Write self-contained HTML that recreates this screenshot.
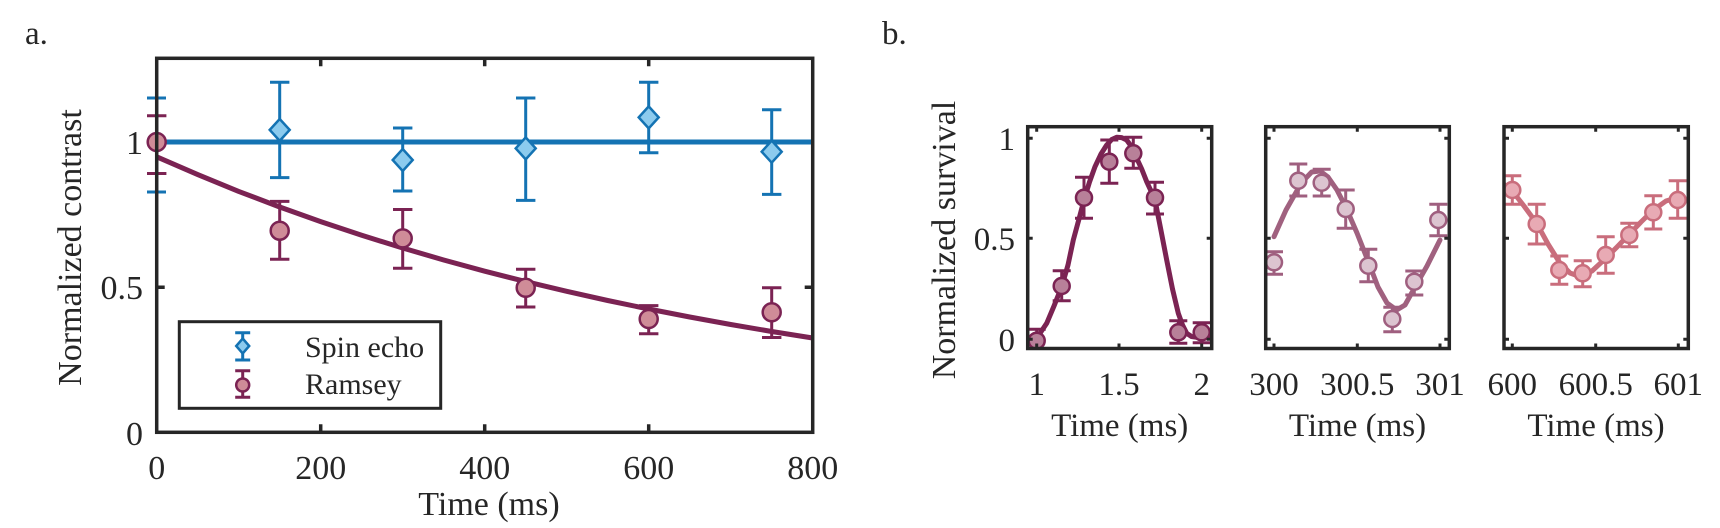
<!DOCTYPE html>
<html>
<head>
<meta charset="utf-8">
<style>
html,body{margin:0;padding:0;background:#fff;}
svg{display:block;}
text{font-family:"Liberation Serif","Times New Roman",serif;fill:#262626;}
</style>
</head>
<body>
<svg width="1720" height="528" viewBox="0 0 1720 528" xmlns="http://www.w3.org/2000/svg">
<rect width="1720" height="528" fill="#fff"/>

<!-- ============ PANEL A ============ -->
<text x="25" y="44" font-size="33">a.</text>

<!-- fits -->
<line x1="156.7" y1="142" x2="812.7" y2="142" stroke="#1473b3" stroke-width="5"/>
<polyline fill="none" stroke="#7b2353" stroke-width="5" stroke-linejoin="round"
 points="156.7,156.8 197.7,174.6 238.7,191.4 279.7,207.0 320.7,221.6 361.7,235.3 402.7,248.0 443.7,260.0 484.7,271.2 525.7,281.6 566.7,291.3 607.7,300.5 648.7,309.0 689.7,317.0 730.7,324.5 771.7,331.5 812.7,338.0"/>

<!-- spin echo error bars -->
<g stroke="#1473b3" stroke-width="3" fill="none">
<path d="M156.7 98V192M147 98H166M147 192H166"/>
<path d="M279.7 82.2V177.6M270 82.2H289.4M270 177.6H289.4"/>
<path d="M402.7 128V191M393 128H412.4M393 191H412.4"/>
<path d="M525.7 98V200.4M516 98H535.4M516 200.4H535.4"/>
<path d="M648.7 82.2V152.7M639 82.2H658.4M639 152.7H658.4"/>
<path d="M771.7 109.7V194.4M762 109.7H781.4M762 194.4H781.4"/>
</g>
<!-- spin echo diamonds -->
<g fill="#8ccbee" stroke="#1473b3" stroke-width="2.5">
<polygon points="279.7,119 289.7,129.9 279.7,140.9 269.7,129.9"/>
<polygon points="402.7,149 412.7,160 402.7,171 392.7,160"/>
<polygon points="525.7,137.4 535.7,148.4 525.7,159.4 515.7,148.4"/>
<polygon points="648.7,106.4 658.7,117.4 648.7,128.4 638.7,117.4"/>
<polygon points="771.7,140.7 781.7,151.7 771.7,162.7 761.7,151.7"/>
</g>

<!-- ramsey error bars -->
<g stroke="#7b2353" stroke-width="3" fill="none">
<path d="M156.7 115.8V173.5M147 115.8H166.4M147 173.5H166.4"/>
<path d="M279.7 201.4V259.2M270 201.4H289.4M270 259.2H289.4"/>
<path d="M402.7 209.5V268.3M393 209.5H412.4M393 268.3H412.4"/>
<path d="M525.7 269.3V307M516 269.3H535.4M516 307H535.4"/>
<path d="M648.7 305.6V333.8M639 305.6H658.4M639 333.8H658.4"/>
<path d="M771.7 287.8V337.5M762 287.8H781.4M762 337.5H781.4"/>
</g>
<g fill="#cf8c98" stroke="#7b2353" stroke-width="2.5">
<circle cx="156.7" cy="142" r="9"/>
<circle cx="279.7" cy="230.7" r="9"/>
<circle cx="402.7" cy="238.4" r="9"/>
<circle cx="525.7" cy="287.8" r="9"/>
<circle cx="648.7" cy="319" r="9"/>
<circle cx="771.7" cy="312.3" r="9"/>
</g>

<!-- axes box a -->
<rect x="156.7" y="58.3" width="656" height="374" fill="none" stroke="#262626" stroke-width="3.5"/>
<g stroke="#262626" stroke-width="3.5">
<path d="M320.7 432.3v-8M484.7 432.3v-8M648.7 432.3v-8"/>
<path d="M320.7 58.3v8M484.7 58.3v8M648.7 58.3v8"/>
<path d="M156.7 287.3h8M812.7 287.3h-8"/>
</g>

<!-- tick labels a -->
<g font-size="34" text-anchor="middle">
<text x="156.7" y="479">0</text>
<text x="320.7" y="479">200</text>
<text x="484.7" y="479">400</text>
<text x="648.7" y="479">600</text>
<text x="812.7" y="479">800</text>
</g>
<g font-size="34" text-anchor="end">
<text x="143" y="445">0</text>
<text x="143" y="299">0.5</text>
<text x="143" y="154">1</text>
</g>
<text x="489" y="515" font-size="34" text-anchor="middle">Time (ms)</text>
<text transform="translate(81,247.5) rotate(-90)" font-size="34" text-anchor="middle">Normalized contrast</text>

<!-- legend -->
<rect x="179.3" y="321.7" width="261.4" height="86.6" fill="#fff" stroke="#262626" stroke-width="3"/>
<path d="M242.7 332.7V360M235.2 332.7H250.2M235.2 360H250.2" stroke="#1473b3" stroke-width="3" fill="none"/>
<polygon points="242.7,338.5 249.2,346 242.7,353.5 236.2,346" fill="#8ccbee" stroke="#1473b3" stroke-width="2.5"/>
<path d="M242.7 370.7V397.3M235.2 370.7H250.2M235.2 397.3H250.2" stroke="#7b2353" stroke-width="3" fill="none"/>
<circle cx="242.7" cy="385" r="6.5" fill="#cf8c98" stroke="#7b2353" stroke-width="2.5"/>
<text x="305" y="357" font-size="30">Spin echo</text>
<text x="305" y="394" font-size="30">Ramsey</text>

<!-- ============ PANEL B ============ -->
<text x="882" y="44" font-size="33">b.</text>
<text transform="translate(955,240) rotate(-90)" font-size="34" text-anchor="middle">Normalized survival</text>

<!-- ---- subplot 1 ---- -->
<polyline fill="none" stroke="#7b2353" stroke-width="5" stroke-linejoin="round" stroke-linecap="round"
 points="1031,343 1036.7,338.3 1046.7,323.3 1054,306 1061.7,286.7 1068,265 1073.3,240 1079,219 1084,200 1089.5,182 1095,166.7 1101,154 1106.7,145 1111.7,139.5 1116.7,137.3 1121.7,137.6 1126.7,140 1131.7,147 1136.7,158.3 1141.7,169 1146.7,181.7 1151,191 1155,200 1160.5,228 1166.7,260 1172.5,289 1178.3,313.3 1182.5,325 1186.7,333.3 1191.5,336.5 1196.7,337.3 1210,337.3"/>
<g stroke="#7b2353" stroke-width="3" fill="none">
<path d="M1036.7 329.3V348M1027.7 329.3H1045.7"/>
<path d="M1061.7 270.7V300.7M1052.7 270.7H1070.7M1052.7 300.7H1070.7"/>
<path d="M1084 177.3V218.3M1075 177.3H1093M1075 218.3H1093"/>
<path d="M1109.3 140V183.3M1100.3 140H1118.3M1100.3 183.3H1118.3"/>
<path d="M1133.3 137.3V168.3M1124.3 137.3H1142.3M1124.3 168.3H1142.3"/>
<path d="M1155 182.3V214M1146 182.3H1164M1146 214H1164"/>
<path d="M1178.3 320.7V343.3M1169.3 320.7H1187.3M1169.3 343.3H1187.3"/>
<path d="M1201.7 322.7V342.7M1192.7 322.7H1210.7M1192.7 342.7H1210.7"/>
</g>
<g fill="#b88099" stroke="#7b2353" stroke-width="2.5">
<circle cx="1036.7" cy="340.7" r="8"/>
<circle cx="1061.7" cy="286" r="8"/>
<circle cx="1084" cy="197.7" r="8"/>
<circle cx="1109.3" cy="161.7" r="8"/>
<circle cx="1133.3" cy="153.3" r="8"/>
<circle cx="1155" cy="197.7" r="8"/>
<circle cx="1178.3" cy="332.3" r="8"/>
<circle cx="1201.7" cy="332.3" r="8"/>
</g>
<rect x="1027.7" y="126.7" width="184" height="221.8" fill="none" stroke="#262626" stroke-width="3.5"/>
<g stroke="#262626" stroke-width="3">
<path d="M1036.7 348.5v-5M1119 348.5v-5M1201.7 348.5v-5M1036.7 126.7v5M1119 126.7v5M1201.7 126.7v5"/>
<path d="M1027.7 138.3h5M1027.7 238.3h5M1027.7 339.3h5M1211.7 138.3h-5M1211.7 238.3h-5M1211.7 339.3h-5"/>
</g>
<g font-size="33" text-anchor="end">
<text x="1015" y="351">0</text>
<text x="1015" y="250">0.5</text>
<text x="1015" y="150">1</text>
</g>
<g font-size="33" text-anchor="middle">
<text x="1036.7" y="395">1</text>
<text x="1119" y="395">1.5</text>
<text x="1201.7" y="395">2</text>
<text x="1119.7" y="436">Time (ms)</text>
</g>

<!-- ---- subplot 2 ---- -->
<polyline fill="none" stroke="#a0617f" stroke-width="5" stroke-linejoin="round" stroke-linecap="round"
 points="1274,236.7 1286,210 1298.3,188.3 1305,179 1311.7,172 1320,171 1328,177 1337,190 1345.7,207 1357,233 1368.3,261.7 1378,287 1387,303 1396.7,310 1405,305 1414.3,288.3 1427,266 1440,240"/>
<g stroke="#9f5f7f" stroke-width="3" fill="none">
<path d="M1274 251.7V274.3M1265 251.7H1283M1265 274.3H1283"/>
<path d="M1298.3 164V196M1289.3 164H1307.3M1289.3 196H1307.3"/>
<path d="M1321.7 169.3V196M1312.7 169.3H1330.7M1312.7 196H1330.7"/>
<path d="M1345.7 190V228.3M1336.7 190H1354.7M1336.7 228.3H1354.7"/>
<path d="M1368.3 249.3V281.7M1359.3 249.3H1377.3M1359.3 281.7H1377.3"/>
<path d="M1392.3 307.3V331.7M1383.3 307.3H1401.3M1383.3 331.7H1401.3"/>
<path d="M1414.3 271V295M1405.3 271H1423.3M1405.3 295H1423.3"/>
<path d="M1438.3 204.3V235.7M1429.3 204.3H1447.3M1429.3 235.7H1447.3"/>
</g>
<g fill="#dcc4d0" stroke="#9f5f7f" stroke-width="2.5">
<circle cx="1274" cy="262.3" r="8"/>
<circle cx="1298.3" cy="180.7" r="8"/>
<circle cx="1321.7" cy="182.7" r="8"/>
<circle cx="1345.7" cy="209" r="8"/>
<circle cx="1368.3" cy="265.7" r="8"/>
<circle cx="1392.3" cy="319" r="8"/>
<circle cx="1414.3" cy="281.7" r="8"/>
<circle cx="1438.3" cy="220" r="8"/>
</g>
<rect x="1265.7" y="126.7" width="183.6" height="221.8" fill="none" stroke="#262626" stroke-width="3.5"/>
<g stroke="#262626" stroke-width="3">
<path d="M1274 348.5v-5M1357.3 348.5v-5M1440 348.5v-5M1274 126.7v5M1357.3 126.7v5M1440 126.7v5"/>
<path d="M1265.7 138.3h5M1265.7 238.3h5M1265.7 339.3h5M1449.3 138.3h-5M1449.3 238.3h-5M1449.3 339.3h-5"/>
</g>
<g font-size="33" text-anchor="middle">
<text x="1274" y="395">300</text>
<text x="1357.3" y="395">300.5</text>
<text x="1440" y="395">301</text>
<text x="1357.5" y="436">Time (ms)</text>
</g>

<!-- ---- subplot 3 ---- -->
<polyline fill="none" stroke="#c96d7c" stroke-width="5" stroke-linejoin="round" stroke-linecap="round"
 points="1505,185 1512.3,191 1524,206 1536.7,223.3 1548,244 1559.3,262 1570,273 1580,276.7 1592,271 1605.7,258.3 1617,247 1629.3,234.3 1641,222 1653.3,210 1666,201 1678.3,197.3"/>
<g stroke="#c96d7c" stroke-width="3" fill="none">
<path d="M1512.3 175.7V204.3M1503.3 175.7H1521.3M1503.3 204.3H1521.3"/>
<path d="M1536.7 204.3V244M1527.7 204.3H1545.7M1527.7 244H1545.7"/>
<path d="M1559.3 256V284.3M1550.3 256H1568.3M1550.3 284.3H1568.3"/>
<path d="M1582.7 260.7V286.7M1573.7 260.7H1591.7M1573.7 286.7H1591.7"/>
<path d="M1605.7 236.7V273.3M1596.7 236.7H1614.7M1596.7 273.3H1614.7"/>
<path d="M1629.3 223.3V246.7M1620.3 223.3H1638.3M1620.3 246.7H1638.3"/>
<path d="M1653.3 195.7V229M1644.3 195.7H1662.3M1644.3 229H1662.3"/>
<path d="M1677.7 180.7V218.3M1668.7 180.7H1686.7M1668.7 218.3H1686.7"/>
</g>
<g fill="#e8aab4" stroke="#c96d7c" stroke-width="2.5">
<circle cx="1512.3" cy="190" r="8"/>
<circle cx="1536.7" cy="224" r="8"/>
<circle cx="1559.3" cy="270" r="8"/>
<circle cx="1582.7" cy="273.3" r="8"/>
<circle cx="1605.7" cy="255" r="8"/>
<circle cx="1629.3" cy="235" r="8"/>
<circle cx="1653.3" cy="212.3" r="8"/>
<circle cx="1677.7" cy="200" r="8"/>
</g>
<rect x="1504" y="126.7" width="184.3" height="221.8" fill="none" stroke="#262626" stroke-width="3.5"/>
<g stroke="#262626" stroke-width="3">
<path d="M1512.3 348.5v-5M1595.7 348.5v-5M1678.3 348.5v-5M1512.3 126.7v5M1595.7 126.7v5M1678.3 126.7v5"/>
<path d="M1504 138.3h5M1504 238.3h5M1504 339.3h5M1688.3 138.3h-5M1688.3 238.3h-5M1688.3 339.3h-5"/>
</g>
<g font-size="33" text-anchor="middle">
<text x="1512.3" y="395">600</text>
<text x="1595.7" y="395">600.5</text>
<text x="1678.3" y="395">601</text>
<text x="1596" y="436">Time (ms)</text>
</g>
</svg>
</body>
</html>
